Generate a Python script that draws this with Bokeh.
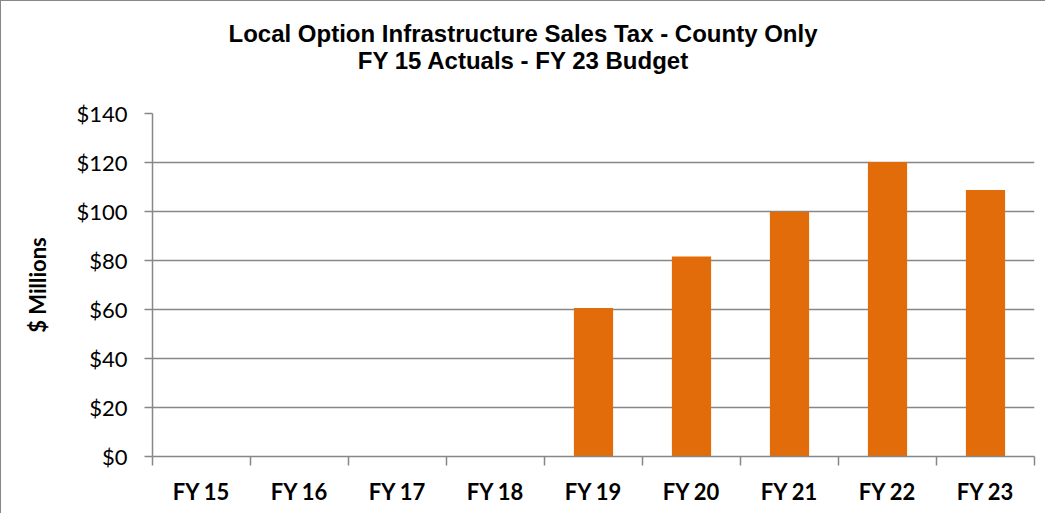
from bokeh.plotting import figure
from bokeh.layouts import column
from bokeh.models import (Range1d, FixedTicker, SingleIntervalTicker, NumeralTickFormatter,
                          ColumnDataSource, Div)
from bokeh.embed import file_html
from bokeh.resources import INLINE

# ---- data ----
categories = ["FY 15", "FY 16", "FY 17", "FY 18", "FY 19", "FY 20", "FY 21", "FY 22", "FY 23"]
values = [0, 0, 0, 0, 60.6, 81.6, 99.9, 120.2, 108.8]
title_lines = ["Local Option Infrastructure Sales Tax - County Only", "FY 15 Actuals - FY 23 Budget"]
y_label = "$ Millions"
y_max = 140
y_step = 20

BAR = "#E36C0A"
GRAY = "#878787"

W = 1044
TITLE_H = 90
PLOT_H = 422

xs = [i + 0.5 for i in range(len(categories))]
src = ColumnDataSource(dict(x=xs, top=values, cat=categories))

# title block (two centred lines)
title_html = ('<div style="width:%dpx;text-align:center;font-family:\'Liberation Sans\',Arial,sans-serif;'
              'font-weight:bold;font-size:24px;line-height:27px;padding-top:19px;color:black;">%s</div>'
              % (W, "<br>".join(title_lines)))
title_div = Div(text=title_html, width=W, height=TITLE_H, margin=0,
                styles={"background-color": "white"})

p = figure(width=W, height=PLOT_H, output_backend="svg", toolbar_location=None,
           x_range=Range1d(0, len(categories)), y_range=Range1d(0, y_max),
           min_border_left=151, min_border_right=11, min_border_top=22,
           min_border_bottom=57, margin=0)
p.outline_line_color = None
p.background_fill_color = "white"
p.border_fill_color = "white"

p.vbar(x="x", top="top", width=0.4, source=src, fill_color=BAR, line_color=None)

# x axis
xa = p.xaxis[0]
xa.ticker = FixedTicker(ticks=xs, minor_ticks=list(range(len(categories) + 1)))
xa.major_label_overrides = {x: c for x, c in zip(xs, categories)}
xa.major_tick_line_color = None
xa.major_tick_out = 0
xa.major_tick_in = 0
xa.minor_tick_line_color = GRAY
xa.minor_tick_line_width = 1.5
xa.minor_tick_out = 9
xa.minor_tick_in = 0
xa.axis_line_color = GRAY
xa.axis_line_width = 1.5
xa.major_label_text_font = "Lato"
xa.major_label_text_font_size = "22px"
xa.major_label_text_font_style = "bold"
xa.major_label_text_color = "black"
xa.major_label_standoff = 12

# y axis
ya = p.yaxis[0]
ya.ticker = SingleIntervalTicker(interval=y_step, num_minor_ticks=0)
ya.formatter = NumeralTickFormatter(format="$0")
ya.axis_line_color = GRAY
ya.axis_line_width = 1.5
ya.major_tick_line_color = GRAY
ya.major_tick_line_width = 1.5
ya.major_tick_out = 8
ya.major_tick_in = 0
ya.minor_tick_line_color = None
ya.major_label_text_font = "Lato"
ya.major_label_text_font_size = "22px"
ya.major_label_text_color = "black"
ya.major_label_standoff = 17
ya.axis_label = y_label
ya.axis_label_text_font = "Lato"
ya.axis_label_text_font_size = "22px"
ya.axis_label_text_font_style = "bold"
ya.axis_label_text_color = "black"
ya.axis_label_standoff = 22

p.xgrid.grid_line_color = None
p.ygrid.ticker = SingleIntervalTicker(interval=y_step, num_minor_ticks=0)
p.ygrid.grid_line_color = GRAY
p.ygrid.grid_line_width = 1.5

layout = column(title_div, p, spacing=0,
                styles={"border-left": "1px solid #878787", "border-top": "1px solid #878787"})

open("out.html", "w").write(file_html(layout, INLINE))
